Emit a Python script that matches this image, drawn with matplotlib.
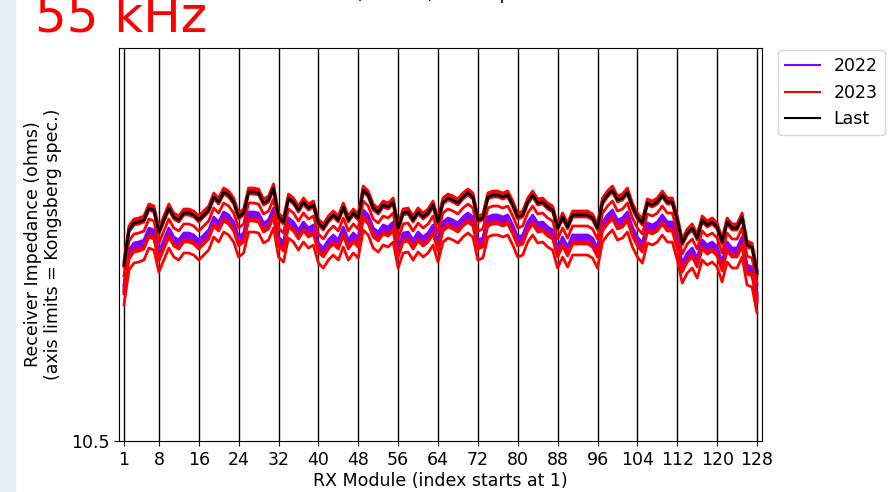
import matplotlib
matplotlib.use('Agg')
import matplotlib.pyplot as plt
from matplotlib.patches import Rectangle
import numpy as np

# RX module numbers and the "Last" impedance profile (ohms)
modules = np.arange(1, 129)
lastZ = [
    12.26, 12.61, 12.68, 12.69, 12.71, 12.83, 12.81, 12.59, 12.71, 12.83,
    12.74, 12.71, 12.78, 12.78, 12.76, 12.71, 12.76, 12.81, 12.94, 12.89,
    12.99, 12.96, 12.89, 12.74, 12.78, 12.99, 12.99, 12.98, 12.88, 12.91,
    13.03, 12.74, 12.69, 12.93, 12.89, 12.81, 12.89, 12.83, 12.86, 12.68,
    12.63, 12.71, 12.76, 12.71, 12.84, 12.71, 12.78, 12.73, 13.01, 12.96,
    12.83, 12.79, 12.86, 12.84, 12.89, 12.63, 12.78, 12.79, 12.71, 12.79,
    12.74, 12.78, 12.86, 12.69, 12.89, 12.93, 12.91, 12.88, 12.94, 12.98,
    12.94, 12.71, 12.73, 12.94, 12.96, 12.96, 12.94, 12.96, 12.86, 12.74,
    12.76, 12.89, 12.96, 12.88, 12.89, 12.84, 12.81, 12.63, 12.74, 12.64,
    12.76, 12.76, 12.76, 12.76, 12.73, 12.63, 12.89, 12.96, 13.01, 12.91,
    12.93, 12.99, 12.84, 12.74, 12.68, 12.88, 12.86, 12.89, 12.96, 12.89,
    12.89, 12.71, 12.48, 12.58, 12.63, 12.53, 12.71, 12.66, 12.69, 12.64,
    12.49, 12.69, 12.63, 12.63, 12.74, 12.46, 12.44, 12.18,
]
# each earlier test sits a roughly constant amount below the last one (ohms)
drop2022 = [0.20, 0.22, 0.24, 0.26]
drop2023 = [-0.04, -0.02, 0.00, 0.02, 0.11, 0.27, 0.29, 0.40]

xTicks = [1, 8, 16, 24, 32, 40, 48, 56, 64, 72, 80, 88, 96, 104, 112, 120, 128]

fig = plt.figure(figsize=(8.91, 4.92), dpi=100)
# light blue slide background strip on the left edge
fig.patches.append(Rectangle((0, 0), 15/891, 1, transform=fig.transFigure,
                             color='#e6f0f9', zorder=-1))
ax = fig.add_axes([119/891, 1 - 441/492, 643/891, 393/492])

colors = plt.cm.rainbow([0.0, 1.0])
last = np.array(lastZ)
for i, d in enumerate(drop2022):
    ax.plot(modules, last - d, color=colors[0], lw=2,
            label='2022' if i == 0 else None)
for i, d in enumerate(drop2023):
    ax.plot(modules, last - d, color=colors[1], lw=2,
            label='2023' if i == 0 else None)
ax.plot(modules, last, color='k', lw=2, label='Last')

for xt in xTicks:
    ax.axvline(xt, color='k', lw=1, zorder=0)

ax.set_xlim(0, 129)
ax.set_ylim(10.5, 14.43)
ax.set_xticks(xTicks)
ax.set_yticks([10.5])
ax.tick_params(labelsize=12.5)
ax.set_xlabel('RX Module (index starts at 1)', fontsize=12.5, labelpad=2)
ax.set_ylabel('Receiver Impedance (ohms)\n(axis limits = Kongsberg spec.)',
              fontsize=12.5, labelpad=6)
leg = ax.legend(loc='upper left', bbox_to_anchor=(1.025, 0.995), borderaxespad=0,
                fontsize=12.5)
for line in leg.get_lines():
    line.set_linewidth(1.5)

# frequency label and title, both cropped at the top of the picture
fig.text(35/891, 1 - 32/492, '55 kHz', color='red', fontsize=36, va='baseline')
fig.text(430/891, 1 + 1/492, 'EM 304 (SN 102): RX Impedance', fontsize=13,
         ha='center', va='baseline')

fig.savefig('out.png', dpi=100)
